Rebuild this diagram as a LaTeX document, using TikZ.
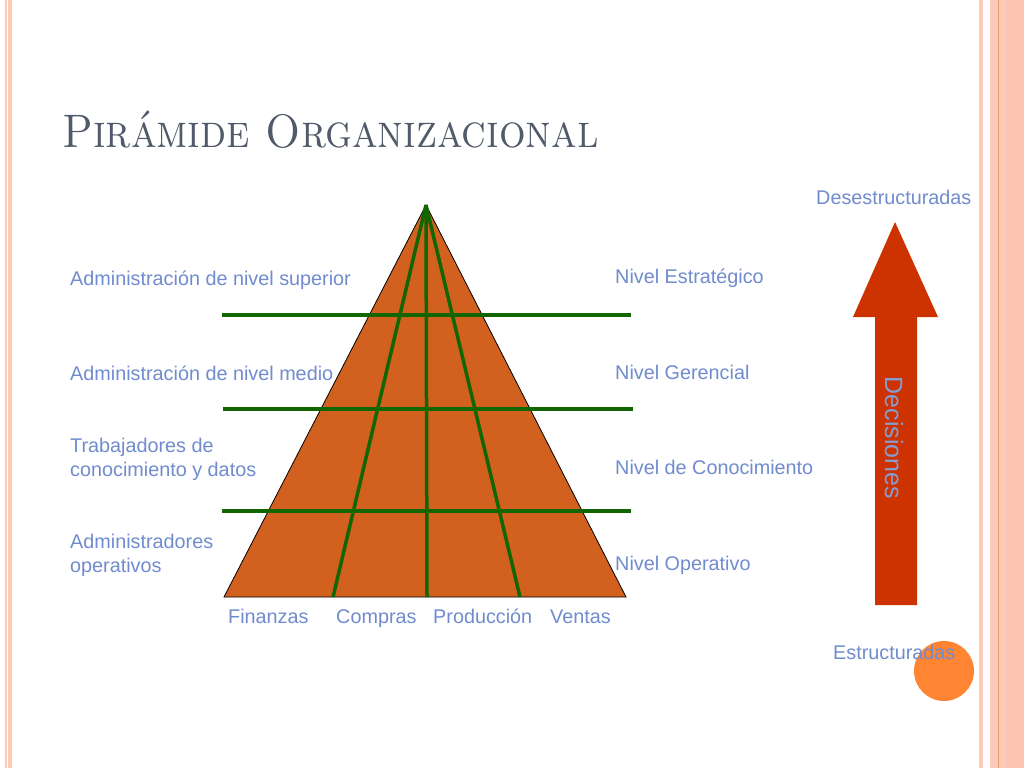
\documentclass[tikz,border=0pt]{standalone}
\usepackage{fontspec}
\setsansfont{Liberation Sans}
\definecolor{lbl}{RGB}{112,140,206}
\definecolor{pyr}{RGB}{210,96,31}
\definecolor{grn}{RGB}{18,102,0}
\definecolor{arr}{RGB}{204,51,0}
\definecolor{dot}{RGB}{255,133,51}
\definecolor{ttl}{RGB}{80,90,106}
\definecolor{strA}{RGB}{252,202,184}
\definecolor{strB}{RGB}{240,154,106}
\tikzset{
  lab/.style={font=\sffamily\fontsize{19.8}{24}\selectfont, text=lbl, inner sep=0pt, anchor=base west, align=left},
  glin/.style={draw=grn, line width=3.5pt},
}
\begin{document}
\begin{tikzpicture}[x=1pt,y=-1pt]
\useasboundingbox (0,0) rectangle (1024,768);
\fill[white] (0,0) rectangle (1024,768);
% side stripes
\fill[strA] (5,0) rectangle (6.5,768);
\fill[strA] (8,0) rectangle (12,768);
\fill[strA] (979,0) rectangle (983,768);
\fill[strA] (990,0) rectangle (1024,768);
\fill[strA!90!strB] (1007,0) rectangle (1024,768);
\draw[strB, line width=1pt] (998,0) -- (998,768);
% title
\node[font=\fontsize{47}{56}\selectfont, text=ttl, inner sep=0pt, anchor=base west, xscale=0.89] (title) at (62,147) {\textsc{Pirámide Organizacional}};
% pyramid
\coordinate (apex) at (426,205);
\coordinate (bl) at (224,597);
\coordinate (br) at (626,597);
\filldraw[fill=pyr, draw=black, line width=0.8pt] (apex) -- (bl) -- (br) -- cycle;
\coordinate (b1) at (333,597);
\coordinate (b2) at (427,597);
\coordinate (b3) at (520,597);
\draw[glin] (apex) -- (b1);
\draw[glin] (apex) -- (b2);
\draw[glin] (apex) -- (b3);
\coordinate (h1l) at (222,315); \coordinate (h1r) at (631,315);
\coordinate (h2l) at (223,409); \coordinate (h2r) at (633,409);
\coordinate (h3l) at (222,511); \coordinate (h3r) at (631,511);
\draw[glin] (h1l) -- (h1r);
\draw[glin] (h2l) -- (h2r);
\draw[glin] (h3l) -- (h3r);
% left labels
\node[lab] (l1) at (70,285) {Administración de nivel superior};
\node[lab] (l2) at (70,380) {Administración de nivel medio};
\node[lab] (l3) at (70,476) {Trabajadores de\\conocimiento y datos};
\node[lab] (l4) at (70,572) {Administradores\\operativos};
% right labels
\node[lab] (r1) at (615,283) {Nivel Estratégico};
\node[lab] (r2) at (615,379) {Nivel Gerencial};
\node[lab] (r3) at (615,474) {Nivel de Conocimiento};
\node[lab] (r4) at (615,570) {Nivel Operativo};
% bottom labels
\node[lab] (c1) at (228,623) {Finanzas};
\node[lab] (c2) at (336,623) {Compras};
\node[lab] (c3) at (433,623) {Producción};
\node[lab] (c4) at (550,623) {Ventas};
% arrow
\fill[arr] (895,222) -- (938,317) -- (917,317) -- (917,605) -- (875,605) -- (875,317) -- (853,317) -- cycle;
\node[font=\sffamily\fontsize{25}{28}\selectfont, text=lbl!85!white, rotate=-90, inner sep=0pt] (dec) at (894,438) {Decisiones};
\fill[dot] (944,671) circle (30);
\node[lab] (top) at (816,204) {Desestructuradas};
\node[lab] (bot) at (833,659) {Estructuradas};
\end{tikzpicture}
\end{document}
